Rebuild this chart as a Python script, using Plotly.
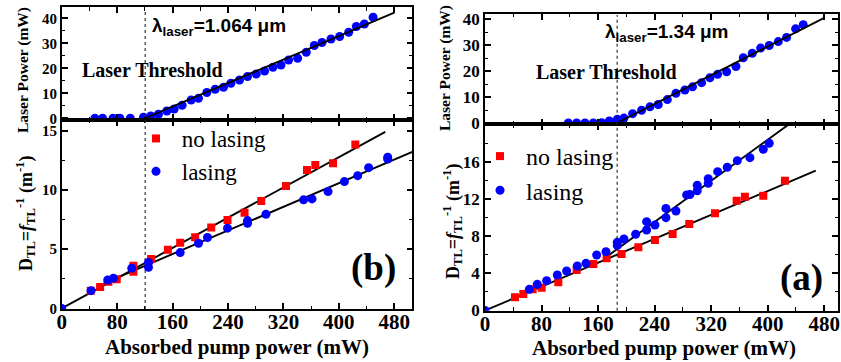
import plotly.graph_objects as go

# ---------------- data: left column, lambda = 1.064 um ----------------
L_TOP_X = [48, 59, 74, 84, 99, 118, 128.6, 139.6, 151.7, 162.3, 173.8, 186.8, 197.4, 209.5,
           221.5, 233.5, 244.2, 256.6, 268.2, 280.8, 292.8, 304.9, 316.5, 327.5, 340.5, 353,
           364.6, 375.7, 388.7, 401.2, 414.2, 425.3, 436.8, 449.4]
L_TOP_Y = [0, 0, 0, 0, 0, 0.4, 0.9, 1.6, 2.9, 3.7, 5.2, 7.3, 8.0, 10.3, 11.6, 12.4, 14.0, 15.3,
           16.7, 17.7, 18.9, 20.4, 21.3, 23.3, 24.0, 26.4, 29.1, 30.3, 31.7, 32.7, 34.4, 36.7,
           37.7, 40.4]
L_TOP_FIT_X = [120, 480]
L_TOP_FIT_Y = [0, 42.3]

L_NOLAS_X = [42, 55.4, 67.4, 79.4, 103.5, 103.5, 129, 153.2, 171, 192.6, 215.8, 239.3, 263.9,
             288, 323.7, 354, 366, 391.6, 423.8]
L_NOLAS_Y = [1.5, 1.8, 2.26, 2.46, 3.59, 3.1, 4.18, 4.94, 5.55, 6.0, 6.82, 7.47, 8.08, 9.07,
             10.34, 11.69, 12.11, 12.25, 13.84]
L_LAS_X = [0, 42.3, 66.4, 74.6, 101.1, 125.2, 125.2, 171, 197.4, 210.4, 239.3, 268.2, 268.2,
           294.8, 349.1, 361.3, 384.4, 408, 427.2, 443, 470.5, 470.5]
L_LAS_Y = [0, 1.5, 2.4, 2.55, 3.39, 3.87, 3.47, 4.71, 5.5, 5.98, 6.77, 7.41, 7.19, 7.95, 9.16,
           9.24, 9.86, 10.7, 11.2, 11.88, 12.76, 12.6]
L_NOLAS_FIT_X = [0, 467]
L_NOLAS_FIT_Y = [0, 14.9]
L_LAS_FIT_X = [60, 506]
L_LAS_FIT_Y = [2.1, 13.2]
L_THRESHOLD = 120.5

# ---------------- data: right column, lambda = 1.34 um ----------------
R_TOP_X = [117.9, 129.7, 141.5, 153.3, 165.1, 175.9, 187.2, 196.6, 208.9, 221.6, 233.4, 245.2,
           258, 270.2, 282.9, 293.7, 306.5, 318.3, 329.1, 341.9, 355.1, 365.5, 378.2, 390,
           402.2, 415, 426.8, 439.5, 450.3]
R_TOP_Y = [0.1, 0.1, 0.1, 0.1, 0.2, 0.9, 1.5, 2.0, 3.7, 5.0, 6.3, 7.2, 9.1, 11.5, 12.8, 14.0,
           15.6, 17.5, 18.8, 19.8, 21.8, 25.2, 26.9, 28.9, 29.9, 31.4, 33.0, 36.3, 37.9]
R_TOP_FIT_X = [186, 480]
R_TOP_FIT_Y = [0, 40.5]

R_NOLAS_X = [42.4, 54.2, 67.4, 80.2, 103.7, 129.7, 153.3, 172.1, 193.3, 217, 240.5, 265.5,
             289, 325.4, 356.1, 367.8, 393.8, 424.4]
R_NOLAS_Y = [1.42, 1.78, 2.28, 2.46, 3.04, 4.36, 5.01, 5.62, 6.09, 6.81, 7.6, 8.24, 9.32,
             10.47, 11.83, 12.26, 12.37, 13.99]
R_LAS_X = [0, 62.7, 74, 87.2, 102.3, 115.5, 130.6, 142.9, 158, 171.2, 187.2, 187.2, 196.6,
           213.2, 228.7, 228.7, 240.5, 256, 256, 270.2, 285.3, 290, 300.3, 300.3, 315.9, 315.9,
           329.2, 342.8, 357, 374.9, 393.8, 402.2]
R_LAS_Y = [0, 2.28, 2.82, 3.21, 3.83, 4.26, 4.8, 5.08, 5.98, 6.34, 7.0, 7.35, 7.7, 8.21, 8.67,
           9.57, 9.21, 10.0, 11.0, 10.72, 12.45, 12.5, 13.5, 12.9, 14.2, 13.7, 14.96, 15.43,
           16.14, 16.47, 17.37, 18.02]
R_NOLAS_FIT_X = [0, 468]
R_NOLAS_FIT_Y = [0, 15.06]
R_LAS_FIT_X = [171, 435]
R_LAS_FIT_Y = [5.73, 20.33]
R_THRESHOLD = 187

X_TICKS = [0, 80, 160, 240, 320, 400, 480]
L_TOP_TICKS = [0, 10, 20, 30, 40]
L_BOT_TICKS = [0, 5, 10, 15]
R_TOP_TICKS = [0, 10, 20, 30, 40]
R_BOT_TICKS = [0, 4, 8, 12, 16]

SERIF = "Liberation Serif, Times New Roman, Times, serif"
SANS = "Liberation Sans, Arial, Helvetica, sans-serif"
BLUE = "#0000FF"
RED = "#FF0000"
W, H = 841, 362

fig = go.Figure()


def pts(x, y, xa, ya, color, symbol, size, name=None, legend=None):
    fig.add_trace(go.Scatter(
        x=x, y=y, xaxis=xa, yaxis=ya, mode="markers", name=name,
        showlegend=name is not None, legend=legend,
        marker=dict(color=color, symbol=symbol, size=size, line=dict(width=0))))


def fit(x, y, xa, ya):
    fig.add_trace(go.Scatter(x=x, y=y, xaxis=xa, yaxis=ya, mode="lines",
                             showlegend=False, line=dict(color="black", width=1.9)))


PAD = "\u00a0"

# left column
pts(L_TOP_X, L_TOP_Y, "x", "y", BLUE, "circle", 9)
fit(L_TOP_FIT_X, L_TOP_FIT_Y, "x", "y")
fit(L_NOLAS_FIT_X, L_NOLAS_FIT_Y, "x2", "y2")
fit(L_LAS_FIT_X, L_LAS_FIT_Y, "x2", "y2")
pts(L_NOLAS_X, L_NOLAS_Y, "x2", "y2", RED, "square", 8, PAD + "no lasing", "legend")
pts(L_LAS_X, L_LAS_Y, "x2", "y2", BLUE, "circle", 9, PAD + "lasing", "legend")

# right column
pts(R_TOP_X, R_TOP_Y, "x3", "y3", BLUE, "circle", 9)
fit(R_TOP_FIT_X, R_TOP_FIT_Y, "x3", "y3")
fit(R_NOLAS_FIT_X, R_NOLAS_FIT_Y, "x4", "y4")
fit(R_LAS_FIT_X, R_LAS_FIT_Y, "x4", "y4")
pts(R_NOLAS_X, R_NOLAS_Y, "x4", "y4", RED, "square", 8, PAD + "no lasing", "legend2")
pts(R_LAS_X, R_LAS_Y, "x4", "y4", BLUE, "circle", 9, PAD + "lasing", "legend2")


def px_x(p):
    return p / W


def px_y(p):
    return 1 - p / H


LEFT_DOM = [px_x(61.7), px_x(412.3)]
RIGHT_DOM = [px_x(485), px_x(838)]

axis_common = dict(showline=True, linecolor="black", linewidth=1.6, mirror="allticks",
                   ticks="inside", ticklen=6, tickwidth=1.5, tickcolor="black",
                   showgrid=False, zeroline=False, automargin=False)


def xax(dom, anchor, rng, labels):
    d = dict(axis_common)
    d.update(domain=dom, anchor=anchor, range=rng, tickvals=X_TICKS,
             showticklabels=labels,
             tickfont=dict(family=SERIF, size=21, color="black", weight="bold"),
             minor=dict(dtick=40, tick0=0, ticks="inside", ticklen=3.5,
                        tickwidth=1.2, tickcolor="black"))
    if labels:
        d["ticklabelstandoff"] = -7
    return d


def yax(dom, anchor, rng, vals, minor, size):
    d = dict(axis_common)
    d.update(domain=dom, anchor=anchor, range=rng, tickvals=vals,
             tickfont=dict(family=SERIF, size=size, color="black", weight="bold"),
             minor=dict(dtick=minor, tick0=0, ticks="inside", ticklen=3.5,
                        tickwidth=1.2, tickcolor="black"))
    return d


fig.update_layout(
    width=W, height=H, margin=dict(l=0, r=0, t=0, b=0, pad=0, autoexpand=False),
    paper_bgcolor="white", plot_bgcolor="white",
    font=dict(family=SERIF, color="black"),
    xaxis=xax(LEFT_DOM, "y", [0, 506], False),
    yaxis=yax([px_y(120), px_y(7.3)], "x", [-0.7, 44.4], L_TOP_TICKS, 5, 15),
    xaxis2=xax(LEFT_DOM, "y2", [0, 506], True),
    yaxis2=yax([px_y(309), px_y(120)], "x2", [-0.05, 15.9], L_BOT_TICKS, 2.5, 15),
    xaxis3=xax(RIGHT_DOM, "y3", [0, 499.5], False),
    yaxis3=yax([px_y(124.3), px_y(14)], "x3", [-0.4, 42.0], R_TOP_TICKS, 5, 17),
    xaxis4=xax(RIGHT_DOM, "y4", [0, 499.5], True),
    yaxis4=yax([px_y(310.7), px_y(124.3)], "x4", [-0.02, 20.06], R_BOT_TICKS, 2, 17),
    legend=dict(x=px_x(136), y=px_y(117), xanchor="left", yanchor="top",
                bgcolor="rgba(0,0,0,0)", font=dict(family=SERIF, size=23, color="black"),
                itemwidth=30, tracegroupgap=0),
    legend2=dict(x=px_x(480), y=px_y(134), xanchor="left", yanchor="top",
                 bgcolor="rgba(0,0,0,0)", font=dict(family=SERIF, size=24, color="black"),
                 itemwidth=30, tracegroupgap=0),
)

# threshold dotted lines
fig.add_shape(type="line", xref="x2", yref="paper", x0=L_THRESHOLD, x1=L_THRESHOLD,
              y0=px_y(309), y1=px_y(12), line=dict(color="#222222", width=1.1, dash="dot"))
fig.add_shape(type="line", xref="x4", yref="paper", x0=R_THRESHOLD, x1=R_THRESHOLD,
              y0=px_y(310.7), y1=px_y(15), line=dict(color="#222222", width=1.1, dash="dot"))


def ann(text, x, y, size, family=SERIF, xanchor="center", angle=0):
    fig.add_annotation(text=text, x=x, y=y, xref="paper", yref="paper", showarrow=False,
                       xanchor=xanchor, yanchor="middle", textangle=angle,
                       font=dict(family=family, size=size, color="black"))


ann("<b>Laser Threshold</b>", px_x(152.5), px_y(70), 20)
ann("<b>Laser Threshold</b>", px_x(606.5), px_y(72), 20)
ann("<b>λ<sub>laser</sub>=1.064 μm</b>", px_x(150), px_y(27), 19, SANS, "left")
ann("<b>λ<sub>laser</sub>=1.34 μm</b>", px_x(603), px_y(33), 19, SANS, "left")
ann("<b>(b)</b>", px_x(373), px_y(268), 37)
ann("<b>(a)</b>", px_x(801), px_y(278), 37)
ann("<b>Absorbed pump power (mW)</b>", px_x(237), px_y(347), 21)
ann("<b>Absorbed pump power (mW)</b>", px_x(664), px_y(348), 21)
ann("<b>Laser Power (mW)</b>", px_x(23), px_y(70), 15.5, angle=-90)
ann("<b>Laser Power (mW)</b>", px_x(445), px_y(68), 15.5, angle=-90)
DT = "<b>D<sub>TL</sub>=<i>f</i><sub>TL</sub><sup>-1</sup> (m<sup>-1</sup>)</b>"
ann(DT, px_x(25), px_y(214), 18, angle=-90)
ann(DT, px_x(452), px_y(221), 18, angle=-90)

fig.write_html("out.html")
